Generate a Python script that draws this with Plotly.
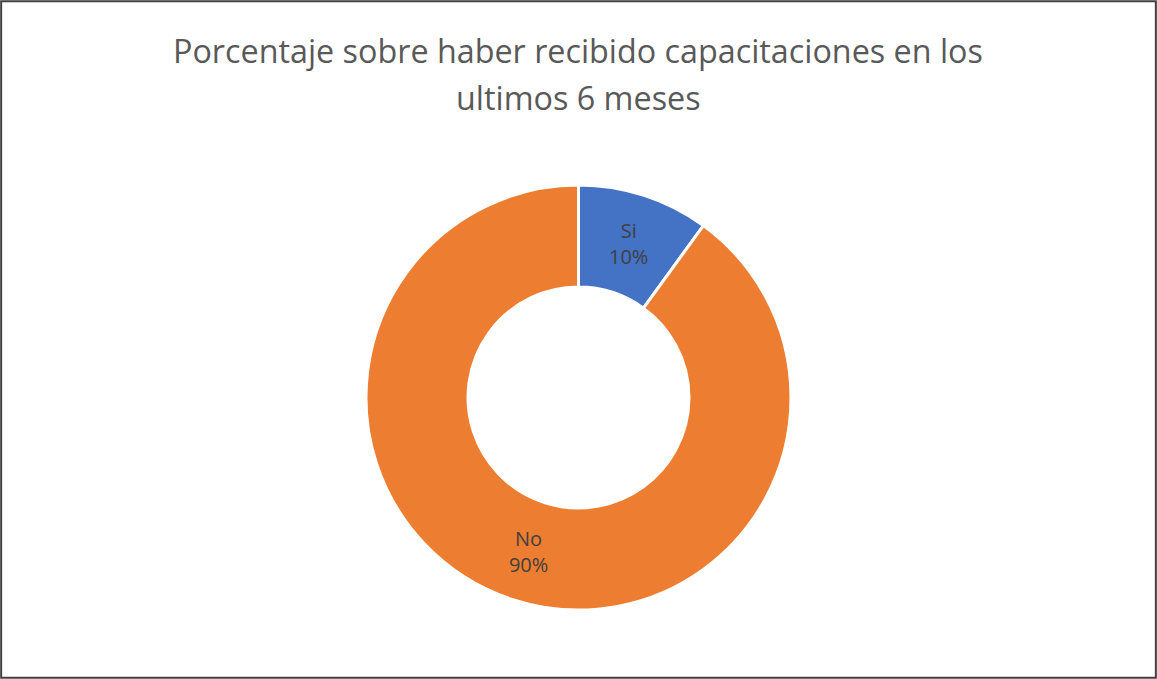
import plotly.graph_objects as go

categorias = ["Si", "No"]
valores = [10, 90]
colores = ["#4472C4", "#ED7D31"]
titulo = ["Porcentaje sobre haber recibido capacitaciones en los", "ultimos 6 meses"]

W, H = 1157, 679

fig = go.Figure()
fig.add_trace(go.Pie(
    labels=categorias,
    values=valores,
    hole=0.52,
    sort=False,
    direction="clockwise",
    rotation=0,
    marker=dict(colors=colores, line=dict(color="white", width=3)),
    texttemplate="%{label}<br>%{percent:.0%}",
    textposition="inside",
    insidetextorientation="horizontal",
    textfont=dict(family="Open Sans", size=20, color="#404040"),
    showlegend=False,
    domain=dict(x=[0, 1], y=[1 - 610 / H, 1 - 185 / H]),
))

# title lines as annotations so each line sits where it should
for linea, ypx in zip(titulo, [50, 97]):
    fig.add_annotation(
        text=linea, x=578 / W, y=1 - ypx / H,
        xref="paper", yref="paper", xanchor="center", yanchor="middle",
        showarrow=False,
        font=dict(family="Open Sans", size=32.3, color="#595959"),
    )

fig.update_layout(
    width=W, height=H,
    margin=dict(l=0, r=0, t=0, b=0),
    paper_bgcolor="white",
    shapes=[dict(type="rect", xref="paper", yref="paper",
                 x0=0.001, x1=0.999, y0=0.002, y1=0.998,
                 line=dict(color="#404040", width=2))],
)

fig.write_html("out.html", config={"displayModeBar": False},
               post_script="document.body.style.margin='0';")
